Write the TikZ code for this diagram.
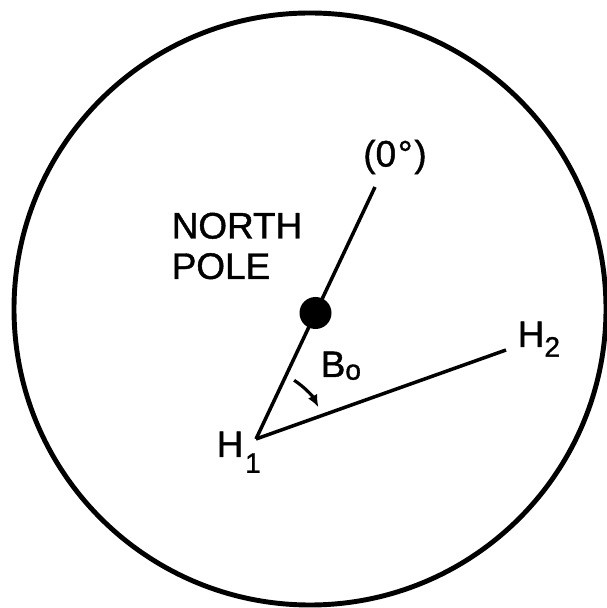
\documentclass[tikz,border=0pt]{standalone}
\usepackage{fontspec}
\setmainfont{Liberation Sans}
\newfontfamily\lettering[FakeBold=1.2]{Liberation Sans}
\usetikzlibrary{arrows.meta, positioning, calc}

\newcommand{\subtag}[2][6pt]{\raisebox{-#1}{\fontsize{16}{16}\selectfont #2}}

\begin{document}
\begin{tikzpicture}[x=0.02cm, y=0.02cm, line width=2pt,
  lbl/.style={inner sep=0pt, font=\lettering\fontsize{21}{23}\selectfont}]
  \useasboundingbox (0,0) rectangle (607,608);
  % outer circle
  \draw[line width=2.8pt] (310,299) circle[radius=296];

  \coordinate (h1) at (256,169);
  \coordinate (zeroend) at (375,421);
  \coordinate (h2) at (506,258);

  % meridian through the pole, and the course to H2
  \draw (h1) -- node[circle, fill, inner sep=0pt, minimum size=0.64cm] (pole) {} (zeroend);
  \draw (h1) -- (h2);

  % bearing angle
  \draw[line width=1.8pt, -{Latex[length=7pt, width=6pt]}]
    ([shift={(57:70)}]h1) arc[start angle=57, end angle=27, radius=70];

  \node[lbl] (zero) at (395,451) {(0\kern1pt°\kern1pt)};
  \node[lbl, align=left, anchor=west] (np) at (170,362) {NORTH\\POLE};
  \node[lbl, anchor=base west] (h1lbl) at (215,151) {H\kern1pt\subtag[9pt]{1}};
  \node[lbl, anchor=base west] (h2lbl) at (516,261) {H\subtag[5.5pt]{2}};
  \node[lbl, anchor=base west] (bearing) at (319,231) {B\subtag[1.5pt]{o}};
\end{tikzpicture}
\end{document}
